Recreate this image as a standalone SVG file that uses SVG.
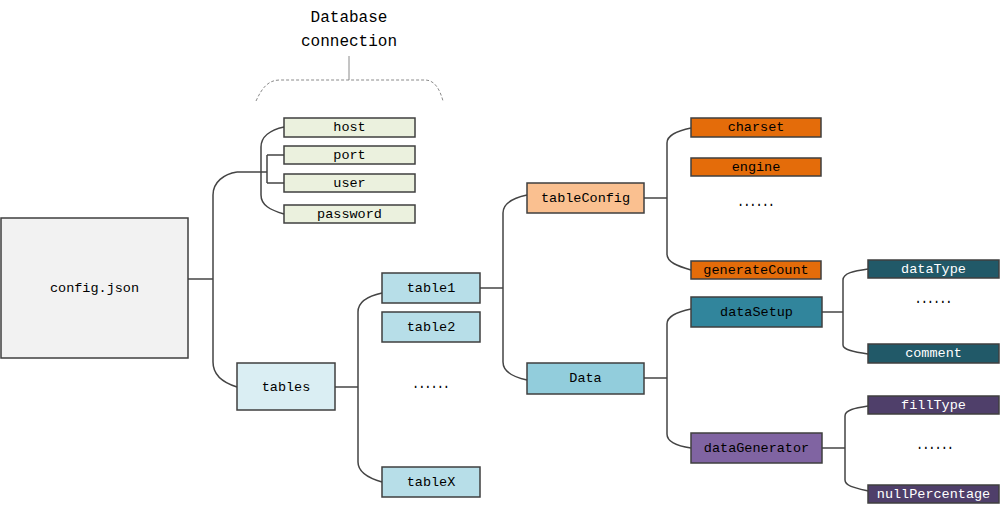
<svg xmlns="http://www.w3.org/2000/svg" width="1001" height="510" viewBox="0 0 1001 510">
<style>
  .box{stroke:#3f3f3f;stroke-width:1.5}
  .t{font-family:"Liberation Mono","DejaVu Sans Mono",monospace;font-size:13.5px;text-anchor:middle;dominant-baseline:central;fill:#000}
  .w{fill:#fff}
  .e{font-weight:bold;font-size:14px}
  .title{font-family:"Liberation Mono","DejaVu Sans Mono",monospace;font-size:16px;text-anchor:middle;fill:#000}
  .c{fill:none;stroke:#444;stroke-width:1.5}
  .d{fill:none;stroke:#8a8a8a;stroke-width:1;stroke-dasharray:3,2}
</style>
<rect width="1001" height="510" fill="#fff"/>
<g id="annotation">
  <text class="title" x="349" y="22">Database</text>
  <text class="title" x="349" y="46">connection</text>
  <path class="d" d="M256,101 C262,88 268,80 280,80 H425 C435,80 440,90 443,101"/>
  <path d="M349,56 V80" stroke="#8a8a8a" stroke-width="1" fill="none"/>
</g>
<g id="connectors">
  <path class="c" d="M188,279 H213"/>
  <path class="c" d="M237,172 C224,174 213,182 213,195 V362 C213,375 224,383 237,387"/>
  <path class="c" d="M237,172 H267"/>
  <path class="c" d="M267,155 V183 M267,155 H284 M267,183 H284"/>
  <path class="c" d="M284,127 C270,130 261,137 261,147 V195 C261,205 270,210 284,214"/>
  <path class="c" d="M335,387 H358"/>
  <path class="c" d="M382,293 C368,296 358,302 358,312 V462 C358,472 368,478 382,482"/>
  <path class="c" d="M480,288 H503"/>
  <path class="c" d="M527,195 C513,198 503,203 503,213 V362 C503,372 513,377 527,380"/>
  <path class="c" d="M644,198 H667"/>
  <path class="c" d="M691,128 C677,131 667,135 667,143 V254 C667,262 677,266 691,270"/>
  <path class="c" d="M644,378 H667"/>
  <path class="c" d="M691,309 C677,312 667,316 667,324 V434 C667,442 677,446 691,448"/>
  <path class="c" d="M822,312 H843"/>
  <path class="c" d="M868,269 C854,271 843,273 843,280 V345 C843,350 854,352 868,354"/>
  <path class="c" d="M822,448 H845"/>
  <path class="c" d="M868,406 C855,408 845,410 845,416 V480 C845,486 855,488 868,491"/>
</g>
<g id="config"><rect class="box" x="1" y="218" width="187" height="140" fill="#f2f2f2"/><text class="t" x="94.5" y="288">config.json</text></g>
<g id="host"><rect class="box" x="284" y="118" width="131" height="19" fill="#ebf1de"/><text class="t" x="349.5" y="127.5">host</text></g>
<g id="port"><rect class="box" x="284" y="146" width="131" height="18" fill="#ebf1de"/><text class="t" x="349.5" y="155">port</text></g>
<g id="user"><rect class="box" x="284" y="174" width="131" height="18" fill="#ebf1de"/><text class="t" x="349.5" y="183">user</text></g>
<g id="password"><rect class="box" x="284" y="205" width="131" height="18" fill="#ebf1de"/><text class="t" x="349.5" y="214">password</text></g>
<g id="tables"><rect class="box" x="237" y="363" width="98" height="47" fill="#daeef3"/><text class="t" x="286" y="387">tables</text></g>
<g id="table1"><rect class="box" x="382" y="273" width="98" height="30" fill="#b7dee8"/><text class="t" x="431" y="288">table1</text></g>
<g id="table2"><rect class="box" x="382" y="312" width="98" height="30" fill="#b7dee8"/><text class="t" x="431" y="327">table2</text></g>
<g id="tables-more"><text class="t e" x="431" y="384" textLength="37" lengthAdjust="spacingAndGlyphs">......</text></g>
<g id="tableX"><rect class="box" x="382" y="467" width="98" height="30" fill="#b7dee8"/><text class="t" x="431" y="482">tableX</text></g>
<g id="tableConfig"><rect class="box" x="527" y="183" width="117" height="30" fill="#fac090"/><text class="t" x="585.5" y="198">tableConfig</text></g>
<g id="Data"><rect class="box" x="527" y="363" width="117" height="31" fill="#92cddc"/><text class="t" x="585.5" y="378.5">Data</text></g>
<g id="charset"><rect class="box" x="691" y="118" width="130" height="19" fill="#e46c0a"/><text class="t" x="756" y="127.5">charset</text></g>
<g id="engine"><rect class="box" x="691" y="158" width="130" height="18" fill="#e46c0a"/><text class="t" x="756" y="167">engine</text></g>
<g id="config-more"><text class="t e" x="756" y="202" textLength="37" lengthAdjust="spacingAndGlyphs">......</text></g>
<g id="generateCount"><rect class="box" x="691" y="261" width="130" height="18" fill="#e46c0a"/><text class="t" x="756" y="270">generateCount</text></g>
<g id="dataSetup"><rect class="box" x="691" y="297" width="131" height="30" fill="#31859c"/><text class="t" x="756.5" y="312">dataSetup</text></g>
<g id="dataGenerator"><rect class="box" x="691" y="433" width="131" height="30" fill="#8064a2"/><text class="t" x="756.5" y="448">dataGenerator</text></g>
<g id="dataType"><rect class="box" x="868" y="260" width="131" height="18" fill="#215968"/><text class="t w" x="933.5" y="269">dataType</text></g>
<g id="setup-more"><text class="t e" x="933.5" y="299" textLength="37" lengthAdjust="spacingAndGlyphs">......</text></g>
<g id="comment"><rect class="box" x="868" y="344" width="131" height="19" fill="#215968"/><text class="t w" x="933.5" y="353.5">comment</text></g>
<g id="fillType"><rect class="box" x="868" y="396" width="131" height="18" fill="#4f3f6a"/><text class="t w" x="933.5" y="405">fillType</text></g>
<g id="gen-more"><text class="t e" x="935" y="445" textLength="37" lengthAdjust="spacingAndGlyphs">......</text></g>
<g id="nullPercentage"><rect class="box" x="868" y="485" width="131" height="18" fill="#4f3f6a"/><text class="t w" x="933.5" y="494">nullPercentage</text></g>
</svg>
